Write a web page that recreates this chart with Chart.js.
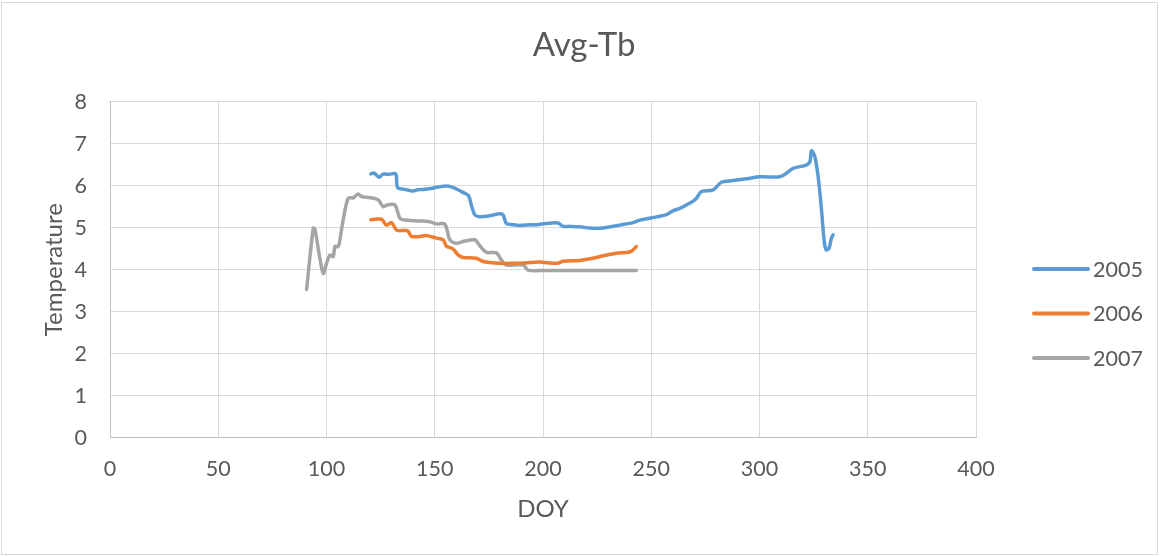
<!DOCTYPE html>
<html>
<head>
<meta charset="utf-8">
<script src="https://cdn.jsdelivr.net/npm/chart.js@4.4.1/dist/chart.umd.min.js"></script>
<style>
  html, body { margin: 0; padding: 0; background: #ffffff; }
  #wrap { position: relative; width: 1160px; height: 556px; }
</style>
</head>
<body>
<div id="wrap"><canvas id="chart"></canvas></div>
<script>
// Day of year and average Tb per season
const doy2005 = [120.5, 122, 124.3, 126, 129, 132, 132.8, 136, 138, 140, 142, 144.7, 148, 150.8, 155.4, 157.7, 160, 163, 165.6, 167.1, 168.6, 170.8, 175, 180, 181.6, 183.1, 186, 189.3, 193.9, 197, 201.6, 207, 209.3, 213, 217, 221.6, 227.7, 231, 235.5, 241.6, 244.7, 250.8, 257, 260, 263.2, 266.2, 269, 270.9, 273.2, 278.6, 282.4, 287.8, 295, 300.1, 309.3, 312, 315.5, 321.6, 323.3, 324, 325.5, 327, 328.5, 330, 330.9, 332.2, 333.2, 334];
const tb2005 = [6.28, 6.30, 6.20, 6.27, 6.27, 6.28, 5.96, 5.91, 5.89, 5.87, 5.90, 5.91, 5.93, 5.96, 5.99, 5.97, 5.92, 5.84, 5.76, 5.50, 5.30, 5.26, 5.28, 5.33, 5.30, 5.10, 5.07, 5.05, 5.07, 5.07, 5.10, 5.11, 5.03, 5.03, 5.02, 4.99, 4.99, 5.02, 5.06, 5.12, 5.18, 5.24, 5.31, 5.40, 5.46, 5.54, 5.62, 5.70, 5.86, 5.90, 6.08, 6.12, 6.17, 6.21, 6.21, 6.28, 6.41, 6.49, 6.57, 6.83, 6.70, 6.25, 5.50, 4.63, 4.47, 4.52, 4.75, 4.83];

const doy2006 = [120.5, 125.4, 127.7, 130, 132.4, 135.4, 137.6, 139.3, 143.1, 146.2, 150.8, 153.9, 155.4, 158.5, 160.8, 163.1, 169.2, 172, 175.4, 180, 186.2, 192, 198.5, 206.2, 209.3, 217, 223.1, 227.7, 233.9, 240, 241.6, 243.1];
const tb2006 = [5.19, 5.20, 5.06, 5.12, 4.94, 4.93, 4.92, 4.79, 4.79, 4.81, 4.75, 4.71, 4.56, 4.49, 4.35, 4.29, 4.27, 4.20, 4.17, 4.15, 4.15, 4.16, 4.18, 4.15, 4.20, 4.22, 4.27, 4.33, 4.39, 4.42, 4.47, 4.55];

const doy2007 = [90.8, 93.9, 94.7, 96.5, 98.5, 100, 101.6, 103.1, 103.9, 105.4, 106.2, 107.7, 110, 112.3, 114.6, 116.2, 121.6, 123.9, 126.2, 128, 131.6, 133.9, 136.2, 142, 147.7, 150.8, 154.7, 157, 160, 163.1, 168.5, 170.8, 173.9, 178.5, 180.8, 183.1, 190.8, 193.1, 200, 243.1];
const tb2007 = [3.53, 4.99, 4.95, 4.40, 3.91, 4.15, 4.35, 4.31, 4.55, 4.55, 4.71, 5.18, 5.70, 5.71, 5.80, 5.74, 5.70, 5.66, 5.50, 5.54, 5.54, 5.22, 5.18, 5.16, 5.14, 5.09, 5.08, 4.71, 4.63, 4.67, 4.71, 4.57, 4.41, 4.40, 4.23, 4.11, 4.11, 3.99, 3.98, 3.98];

const seriesNames = ['2005', '2006', '2007'];
const seriesColors = ['#5B9BD5', '#ED7D31', '#A5A5A5'];

const FONT = 'Lato, "Open Sans", sans-serif';
const TEXT = '#595959';

function pairs(xs, ys) {
  return xs.map((x, i) => ({ x: x, y: ys[i] }));
}

const seriesData = [pairs(doy2005, tb2005), pairs(doy2006, tb2006), pairs(doy2007, tb2007)];

// Outer frame around the whole chart
const framePlugin = {
  id: 'frame',
  beforeDraw(chart) {
    const ctx = chart.ctx;
    ctx.save();
    ctx.fillStyle = '#ffffff';
    ctx.fillRect(0, 0, chart.width, chart.height);
    ctx.strokeStyle = '#D9D9D9';
    ctx.lineWidth = 1;
    ctx.strokeRect(1.5, 2.5, chart.width - 4, chart.height - 4);
    ctx.restore();
  }
};

// Legend to the right of the plot, one line sample per series
const sideLegend = {
  id: 'sideLegend',
  afterDraw(chart) {
    const ctx = chart.ctx;
    const area = chart.chartArea;
    const x0 = area.right + 58;
    const step = 44.5;
    const yc = 313.5;
    ctx.save();
    ctx.font = '21.5px ' + FONT;
    ctx.textBaseline = 'middle';
    ctx.textAlign = 'left';
    chart.data.datasets.forEach((ds, i) => {
      const y = yc + (i - 1) * step;
      ctx.strokeStyle = ds.borderColor;
      ctx.lineWidth = 4;
      ctx.lineCap = 'round';
      ctx.beginPath();
      ctx.moveTo(x0, y);
      ctx.lineTo(x0 + 54, y);
      ctx.stroke();
      ctx.fillStyle = TEXT;
      ctx.fillText(ds.label, x0 + 59, y + 1);
    });
    ctx.restore();
  }
};

new Chart(document.getElementById('chart'), {
  type: 'line',
  data: {
    datasets: seriesNames.map((name, i) => ({
      label: name,
      data: seriesData[i],
      borderColor: seriesColors[i],
      backgroundColor: seriesColors[i],
      borderWidth: 3.5,
      pointRadius: 0,
      tension: 0.3,
      fill: false,
      borderCapStyle: 'round',
      borderJoinStyle: 'round'
    }))
  },
  options: {
    responsive: true,
    maintainAspectRatio: false,
    animation: false,
    layout: { padding: { left: 8, right: 0, top: 0, bottom: 0 } },
    plugins: {
      legend: { display: false },
      tooltip: { enabled: false },
      title: {
        display: true,
        text: 'Avg-Tb',
        color: TEXT,
        font: { family: FONT, size: 33, weight: 'normal', lineHeight: 1.2 },
        padding: { top: 26, bottom: 36 }
      }
    },
    scales: {
      x: {
        type: 'linear',
        min: 0,
        max: 400,
        ticks: {
          stepSize: 50,
          color: TEXT,
          padding: 18,
          maxRotation: 0,
          font: { family: FONT, size: 21.5 }
        },
        grid: { color: '#D9D9D9', lineWidth: 1, drawTicks: false },
        border: { color: '#BFBFBF', width: 1 },
        title: {
          display: true,
          text: 'DOY',
          color: TEXT,
          font: { family: FONT, size: 24, lineHeight: 1.2 },
          padding: { top: 0, bottom: 32 }
        },
        afterFit(scale) { scale.height = 118.3; }
      },
      y: {
        type: 'linear',
        min: 0,
        max: 8,
        ticks: {
          stepSize: 1,
          color: TEXT,
          padding: 23,
          font: { family: FONT, size: 21.5 }
        },
        grid: { color: '#D9D9D9', lineWidth: 1, drawTicks: false },
        border: { color: '#BFBFBF', width: 1 },
        title: {
          display: true,
          text: 'Temperature',
          color: TEXT,
          font: { family: FONT, size: 24, lineHeight: 1.2 },
          padding: { top: 32, bottom: 0 }
        },
        afterFit(scale) { scale.width = 102; }
      },
      // empty band on the right that holds the legend
      legendBand: {
        type: 'linear',
        position: 'right',
        display: true,
        ticks: { display: false },
        grid: { display: false, drawTicks: false },
        border: { display: false },
        afterFit(scale) { scale.width = 184; }
      }
    }
  },
  plugins: [framePlugin, sideLegend]
});
</script>
</body>
</html>
